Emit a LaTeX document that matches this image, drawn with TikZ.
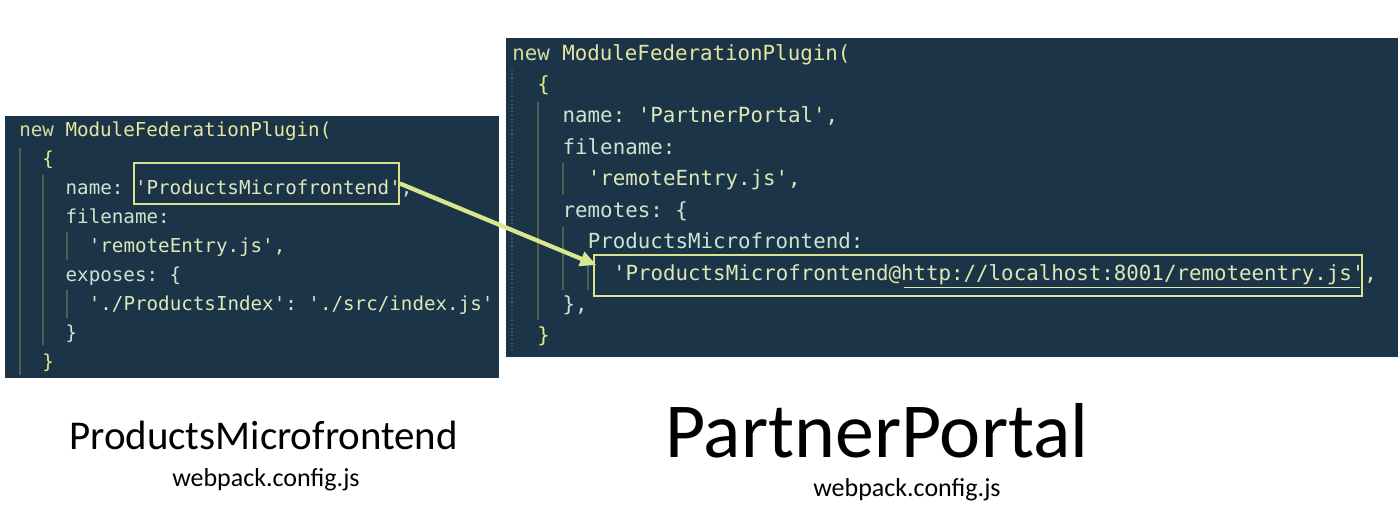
\documentclass[tikz,border=0pt]{standalone}
\usepackage{fontspec}
\setmonofont{DejaVu Sans Mono}
\newfontfamily\calfont{Carlito}
\usetikzlibrary{arrows.meta,calc}
\definecolor{bg}{HTML}{1B3448}
\definecolor{kw}{HTML}{D5DDA0}
\definecolor{fn}{HTML}{E6E6A2}
\definecolor{brace}{HTML}{E8E68E}
\definecolor{key}{HTML}{C9E6CF}
\definecolor{str}{HTML}{DCE8B8}
\definecolor{guide}{HTML}{4E6050}
\definecolor{hl}{HTML}{D9E38E}
\definecolor{arr}{HTML}{D8E690}
\begin{document}
\begin{tikzpicture}[x=0.75pt,y=-0.75pt,
  codeL/.style={anchor=base west,inner sep=0,font=\ttfamily\fontsize{14.4}{16}\selectfont},
  codeR/.style={anchor=base west,inner sep=0,font=\ttfamily\fontsize{15.6}{17}\selectfont},
  guideline/.style={draw=guide,line width=0.8pt},
  hlbox/.style={draw=hl,line width=1.2pt,inner sep=0,minimum height=30.75pt},
  arrowst/.style={draw=arr,line width=3.2pt,-{Triangle[length=12pt,width=11pt]}},
  lab/.style={anchor=base west,inner sep=0,text=black}]
\useasboundingbox (0,0) rectangle (1400,516);
\fill[white] (0,0) rectangle (1400,516);
% panels
\fill[bg] (5,116) rectangle (499,378);
\fill[bg] (506,38) rectangle (1398,357);
% indent guides left
\draw[guideline] (20,148) -- (20,375);
\draw[guideline] (43,175) -- (43,345);
\draw[guideline] (67,232) -- (67,260);
\draw[guideline] (67,290) -- (67,318);
% indent guides right
\draw[guideline,dotted] (512,70) -- (512,353);
\draw[guideline] (538,102) -- (538,320);
\draw[guideline] (563,163) -- (563,195);
\draw[guideline] (563,227) -- (563,290);
\draw[guideline] (588,260) -- (588,290);
% left code
\node[codeL] (l1) at (19,137) {\textcolor{kw}{new} \textcolor{fn}{ModuleFederationPlugin(}};
\node[codeL,text=brace] (l2) at (42.2,166) {\{};
\node[codeL] (l3) at (65.4,195) {\textcolor{key}{name:} \textcolor{str}{'ProductsMicrofrontend'}\textcolor{key}{,}};
\node[codeL,text=key] (l4) at (65.4,224) {filename:};
\node[codeL,text=str] (l5) at (88.6,253) {'remoteEntry.js',};
\node[codeL,text=key] (l6) at (65.4,282) {exposes: \{};
\node[codeL,text=str] (l7) at (88.6,311) {'./ProductsIndex': './src/index.js'};
\node[codeL,text=key] (l8) at (65.4,340) {\}};
\node[codeL,text=brace] (l9) at (42.2,369) {\}};
% right code
\node[codeR] (r1) at (512,61) {\textcolor{kw}{new} \textcolor{fn}{ModuleFederationPlugin(}};
\node[codeR,text=brace] (r2) at (537.2,92) {\{};
\node[codeR] (r3) at (562.4,123) {\textcolor{key}{name:} \textcolor{str}{'PartnerPortal',}};
\node[codeR,text=key] (r4) at (562.4,155) {filename:};
\node[codeR,text=str] (r5) at (587.6,186) {'remoteEntry.js',};
\node[codeR,text=key] (r6) at (562.4,218) {remotes: \{};
\node[codeR,text=key] (r7) at (587.6,249) {ProductsMicrofrontend:};
\node[codeR,text=str] (r8) at (612.8,281) {'ProductsMicrofrontend@http://localhost:8001/remoteentry.js',};
\node[codeR,text=key] (r9) at (562.4,312) {\},};
\node[codeR,text=brace] (r10) at (537.2,343) {\}};
\draw[str,line width=0.7pt] (904,287) -- (1360,287);
% highlight boxes
\node[hlbox,minimum width=198.75pt] (pmbox) at (266.5,183.5) {};
\node[hlbox,minimum width=576pt] (rbox) at (978,275.5) {};
% arrow
\draw[arrowst] (pmbox.east) -- ($(rbox.west)+(3,-10.5)$);
% labels
\node[lab,font=\calfont\fontsize{30.7}{36}\selectfont] (t1) at (69,450) {ProductsMicrofrontend};
\node[lab,font=\calfont\fontsize{19.5}{23}\selectfont] (t2) at (172,487) {webpack.config.js};
\node[lab,font=\calfont\fontsize{58.4}{66}\selectfont] (t3) at (665,458) {PartnerPortal};
\node[lab,font=\calfont\fontsize{19.5}{23}\selectfont] (t4) at (813,497) {webpack.config.js};
\end{tikzpicture}
\end{document}
